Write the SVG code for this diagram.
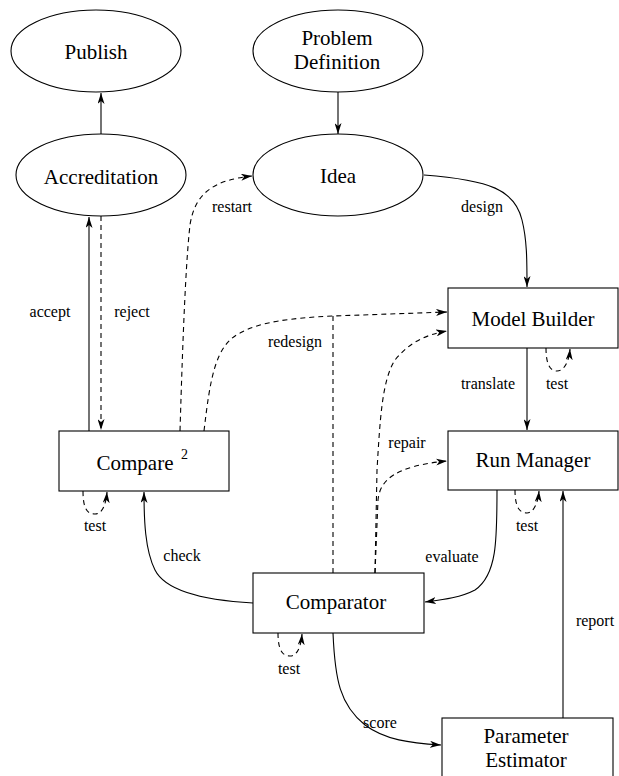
<svg xmlns="http://www.w3.org/2000/svg" width="619" height="776" viewBox="0 0 619 776">
  <defs>
    <marker id="arrow" viewBox="0 0 11 7" markerWidth="11" markerHeight="7" refX="11" refY="3.5" orient="auto" markerUnits="userSpaceOnUse">
      <path d="M0,0 L11,3.5 L0,7 L3,3.5 z" fill="#000"/>
    </marker>
  </defs>
  <style>
    text { font-family: 'Liberation Serif', 'DejaVu Serif', serif; fill: #000; }
    .node { fill: #fff; stroke: #000; stroke-width: 1.1; }
    .label { font-size: 21px; text-anchor: middle; }
    .sup { font-size: 14px; }
    .elabel { font-size: 16px; text-anchor: middle; }
    .edge { fill: none; stroke: #000; stroke-width: 1.1; marker-end: url(#arrow); }
    .plain { fill: none; stroke: #000; stroke-width: 1.1; }
    .dash { stroke-dasharray: 5 4; }
  </style>
  <rect width="619" height="776" fill="#fff"/>

  <g id="connectors">
    <!-- solid flows -->
    <path class="edge" d="M101,134 L101,93"/>
    <path class="edge" d="M338,92 L338,134"/>
    <path class="edge" d="M424,175 C490,180 515,190 522,220 C527,240 527,260 527,287"/>
    <path class="edge" d="M527,348 L527,430"/>
    <path class="edge" d="M497,490 C497,540 497,575 475,590 C460,598 440,600 425,602"/>
    <path class="edge" d="M563,718 L563,491"/>
    <path class="edge" d="M333,633 C335,680 340,705 365,725 C385,740 410,743 441,745"/>
    <path class="edge" d="M253,603 C200,600 165,590 155,570 C145,550 144,520 144,492"/>
    <path class="edge" d="M89,431 L89,217"/>
    <!-- dashed flows -->
    <path class="edge dash" d="M101,216 L101,430"/>
    <path class="edge dash" d="M180,431 C183,330 186,260 190,225 C195,192 215,180 252,176"/>
    <path class="edge dash" d="M204,431 C210,380 215,345 240,333 C260,322 290,318 333,316 L447,312"/>
    <path class="plain dash" d="M333,573 L333,316"/>
    <path class="edge dash" d="M375,573 L377,470 C380,420 382,380 395,360 C410,342 425,335 447,331"/>
    <path class="edge dash" d="M375,573 L378,500 C380,480 395,466 447,461"/>
    <!-- self tests -->
    <path class="edge dash" d="M83,491 C83,510 88,514 95,514 C102,514 106,505 107,492"/>
    <path class="edge dash" d="M546,348 C546,366 551,371 557,371 C564,371 569,362 570,349"/>
    <path class="edge dash" d="M515,490 C515,508 520,513 527,513 C533,513 538,504 539,491"/>
    <path class="edge dash" d="M278,633 C278,651 283,656 290,656 C297,656 301,647 302,634"/>

    <text class="elabel" x="232" y="212">restart</text>
    <text class="elabel" x="482" y="212">design</text>
    <text class="elabel" x="50" y="317">accept</text>
    <text class="elabel" x="132" y="317">reject</text>
    <text class="elabel" x="295" y="347">redesign</text>
    <text class="elabel" x="488" y="389">translate</text>
    <text class="elabel" x="557" y="389">test</text>
    <text class="elabel" x="407" y="448">repair</text>
    <text class="elabel" x="95" y="531">test</text>
    <text class="elabel" x="527" y="531">test</text>
    <text class="elabel" x="182" y="561">check</text>
    <text class="elabel" x="452" y="562">evaluate</text>
    <text class="elabel" x="595" y="626">report</text>
    <text class="elabel" x="289" y="674">test</text>
    <text class="elabel" x="380" y="728">score</text>
  </g>

  <g id="publish">
    <ellipse class="node" cx="96" cy="51" rx="85" ry="41"/>
    <text class="label" x="96" y="59">Publish</text>
  </g>
  <g id="problem-definition">
    <ellipse class="node" cx="338" cy="51" rx="85" ry="41"/>
    <text class="label" x="337" y="45">Problem</text>
    <text class="label" x="337" y="69">Definition</text>
  </g>
  <g id="accreditation">
    <ellipse class="node" cx="101" cy="175" rx="85" ry="41"/>
    <text class="label" x="101" y="184">Accreditation</text>
  </g>
  <g id="idea">
    <ellipse class="node" cx="338" cy="175" rx="85" ry="41"/>
    <text class="label" x="338" y="183">Idea</text>
  </g>
  <g id="model-builder">
    <rect class="node" x="448" y="288" width="170" height="60"/>
    <text class="label" x="533" y="326">Model Builder</text>
  </g>
  <g id="run-manager">
    <rect class="node" x="448" y="431" width="170" height="59"/>
    <text class="label" x="533" y="467">Run Manager</text>
  </g>
  <g id="compare">
    <rect class="node" x="59" y="431" width="170" height="60"/>
    <text class="label" x="135" y="470">Compare</text>
    <text class="sup" x="181" y="459">2</text>
  </g>
  <g id="comparator">
    <rect class="node" x="253" y="573" width="171" height="60"/>
    <text class="label" x="336" y="609">Comparator</text>
  </g>
  <g id="parameter-estimator">
    <rect class="node" x="442" y="718" width="171" height="70"/>
    <text class="label" x="526" y="743">Parameter</text>
    <text class="label" x="526" y="767">Estimator</text>
  </g>
</svg>
